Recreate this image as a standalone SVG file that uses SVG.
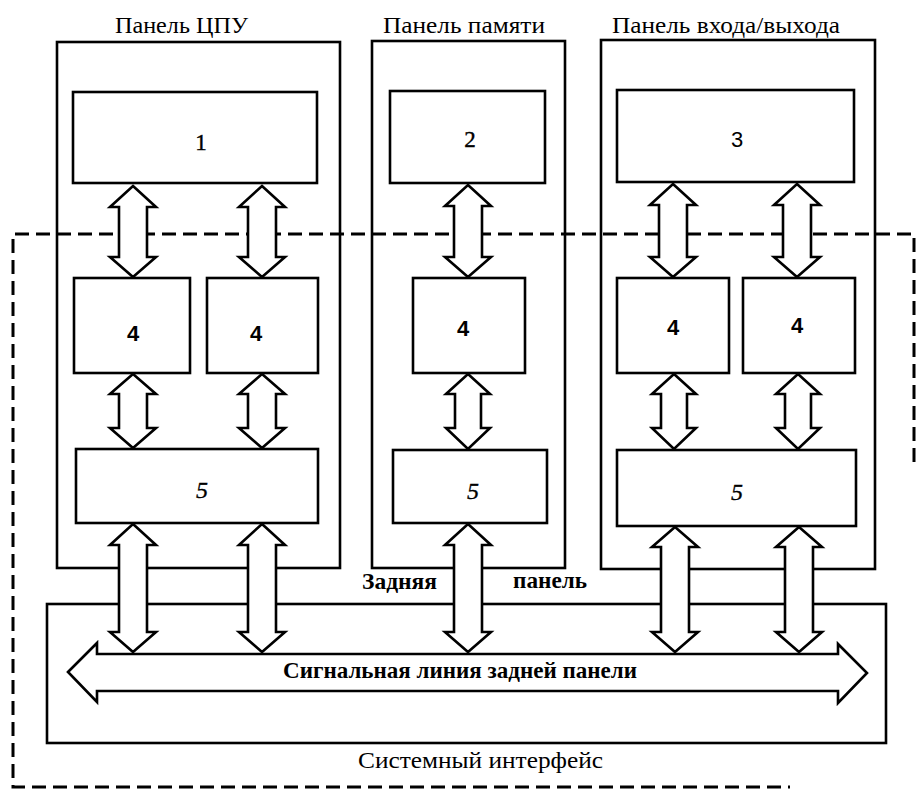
<svg xmlns="http://www.w3.org/2000/svg" width="916" height="795" viewBox="0 0 916 795">
<style>
.bg{fill:#fff}
.panel,.box{fill:none;stroke:#000;stroke-width:2.6}
.dash{fill:none;stroke:#000;stroke-width:3;stroke-dasharray:14 7}
.arr{fill:#fff;stroke:#000;stroke-width:2.6;stroke-linejoin:miter}
.t{font-family:"Liberation Serif","Times New Roman",serif;font-size:22.5px;fill:#000}
.tb{font-family:"Liberation Serif","Times New Roman",serif;font-size:22.5px;font-weight:bold;fill:#000}
.n{font-family:"Liberation Serif",serif;font-size:23px;fill:#000;text-anchor:middle;stroke:#000;stroke-width:0.4}
.ns{font-family:"Liberation Sans",Arial,sans-serif;font-size:22px;font-weight:bold;fill:#000;text-anchor:middle}
.ns3{font-family:"Liberation Sans",Arial,sans-serif;font-size:22px;fill:#000;text-anchor:middle}
.ni{font-family:"Liberation Serif",serif;font-size:24px;font-style:italic;fill:#000;text-anchor:middle;stroke:#000;stroke-width:0.3}
</style>
<rect class="bg" x="0" y="0" width="916" height="795"/>

<g id="outline">
<path class="dash" d="M914 462 L914 234 L13 234 L13 787 L790 787"/>
</g>

<g id="panel-cpu">
<rect class="panel" x="57" y="42" width="283" height="526"/>
<text class="t" x="115" y="33" textLength="133" lengthAdjust="spacingAndGlyphs">Панель ЦПУ</text>
</g>
<g id="panel-mem">
<rect class="panel" x="372" y="41" width="193" height="527"/>
<text class="t" x="383" y="33" textLength="162" lengthAdjust="spacingAndGlyphs">Панель памяти</text>
</g>
<g id="panel-io">
<rect class="panel" x="601" y="40" width="274" height="529"/>
<text class="t" x="612" y="33" textLength="228" lengthAdjust="spacingAndGlyphs">Панель входа/выхода</text>
</g>

<g id="backplane">
<rect class="panel" x="47" y="604" width="839" height="139"/>
<text class="tb" x="362" y="589" textLength="75" lengthAdjust="spacingAndGlyphs">Задняя</text>
<text class="tb" x="513" y="588" textLength="74" lengthAdjust="spacingAndGlyphs">панель</text>
<text class="t" x="358" y="768" textLength="245" lengthAdjust="spacingAndGlyphs">Системный  интерфейс</text>
</g>

<g id="b1"><rect class="box" x="73" y="92" width="244" height="91"/><text class="n" x="201" y="150">1</text></g>
<g id="b2"><rect class="box" x="390" y="91" width="155" height="92"/><text class="n" x="470" y="147">2</text></g>
<g id="b3"><rect class="box" x="617" y="90" width="237" height="92"/><text class="ns3" x="737" y="147">3</text></g>

<g id="b4a"><rect class="box" x="74" y="278" width="116" height="95"/><text class="ns" x="133" y="341">4</text></g>
<g id="b4b"><rect class="box" x="207" y="278" width="111" height="95"/><text class="ns" x="256" y="341">4</text></g>
<g id="b4c"><rect class="box" x="413" y="278" width="112" height="95"/><text class="ns" x="463" y="336">4</text></g>
<g id="b4d"><rect class="box" x="617" y="278" width="112" height="95"/><text class="ns" x="673" y="335">4</text></g>
<g id="b4e"><rect class="box" x="743" y="278" width="112" height="95"/><text class="ns" x="797" y="333">4</text></g>

<g id="b5a"><rect class="box" x="76" y="449" width="242" height="74"/><text class="ni" x="202" y="498">5</text></g>
<g id="b5b"><rect class="box" x="393" y="450" width="154" height="73"/><text class="ni" x="473" y="499">5</text></g>
<g id="b5c"><rect class="box" x="617" y="450" width="239" height="76"/><text class="ni" x="737" y="500">5</text></g>

<g id="connectors">
<path class="arr" d="M133 186 L156 207 L147 207 L147 257 L156 257 L133 277 L110 257 L119 257 L119 207 L110 207 Z"/>
<path class="arr" d="M262 186 L285 207 L276 207 L276 257 L285 257 L262 277 L239 257 L248 257 L248 207 L239 207 Z"/>
<path class="arr" d="M468 185 L491 206 L482 206 L482 257 L491 257 L468 277 L445 257 L454 257 L454 206 L445 206 Z"/>
<path class="arr" d="M673 184 L696 205 L687 205 L687 257 L696 257 L673 277 L650 257 L659 257 L659 205 L650 205 Z"/>
<path class="arr" d="M797 184 L820 205 L811 205 L811 257 L820 257 L797 277 L774 257 L783 257 L783 205 L774 205 Z"/>
<path class="arr" d="M133 374 L156 394 L147 394 L147 428 L156 428 L133 448 L110 428 L119 428 L119 394 L110 394 Z"/>
<path class="arr" d="M262 374 L285 394 L276 394 L276 428 L285 428 L262 448 L239 428 L248 428 L248 394 L239 394 Z"/>
<path class="arr" d="M468 374 L490 394 L481 394 L481 428 L490 428 L468 449 L446 428 L455 428 L455 394 L446 394 Z"/>
<path class="arr" d="M674 374 L696 394 L687 394 L687 428 L696 428 L674 449 L652 428 L661 428 L661 394 L652 394 Z"/>
<path class="arr" d="M798 374 L820 394 L811 394 L811 428 L820 428 L798 449 L776 428 L785 428 L785 394 L776 394 Z"/>
<path class="arr" d="M133 524 L156 545 L147 545 L147 632 L156 632 L133 652 L110 632 L119 632 L119 545 L110 545 Z"/>
<path class="arr" d="M262 524 L285 545 L276 545 L276 632 L285 632 L262 652 L239 632 L248 632 L248 545 L239 545 Z"/>
<path class="arr" d="M468 524 L491 545 L482 545 L482 632 L491 632 L468 652 L445 632 L454 632 L454 545 L445 545 Z"/>
<path class="arr" d="M675 527 L698 547 L689 547 L689 632 L698 632 L675 652 L652 632 L661 632 L661 547 L652 547 Z"/>
<path class="arr" d="M799 527 L822 547 L813 547 L813 632 L822 632 L799 652 L776 632 L785 632 L785 547 L776 547 Z"/>
<path class="arr" d="M68 672 L97 643 L97 654 L838 654 L838 644 L867 673 L838 703 L838 691 L97 691 L97 702 Z"/>
<text class="tb" x="283" y="678" textLength="354" lengthAdjust="spacingAndGlyphs">Сигнальная линия задней панели</text>
</g>
</svg>
